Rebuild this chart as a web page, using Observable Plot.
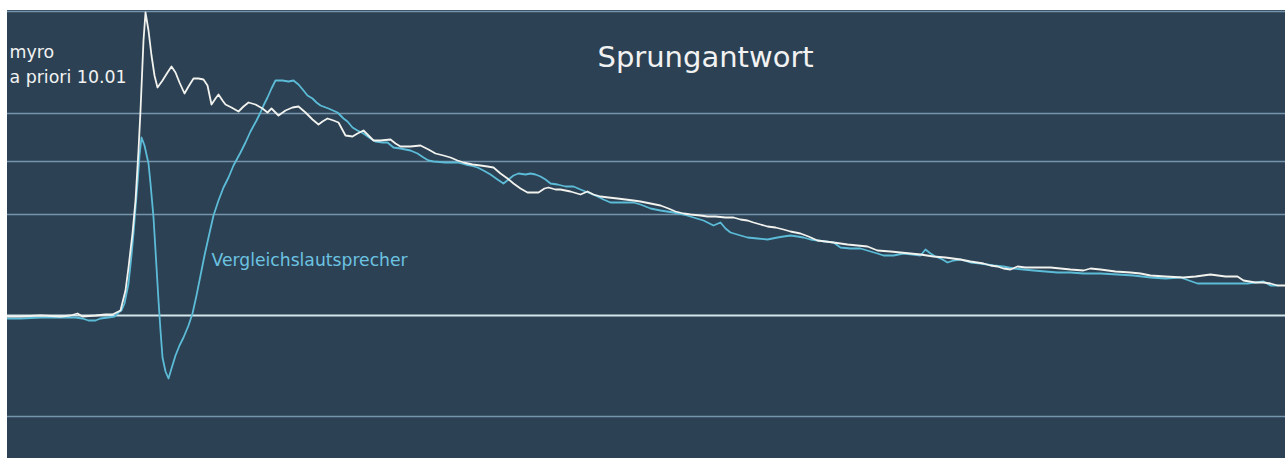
<!DOCTYPE html>
<html>
<head>
<meta charset="utf-8">
<script src="https://cdn.jsdelivr.net/npm/d3@7"></script>
<script src="https://cdn.jsdelivr.net/npm/@observablehq/plot@0.6"></script>
<style>
  html, body { margin: 0; padding: 0; background: #ffffff; }
  #chart { padding: 10px 0 0 7px; width: 1278px; height: 448px; }
  #chart svg { display: block; }
</style>
</head>
<body>
<div id="chart"></div>
<script>
// Sample position (time axis) and amplitude
const myroT = [7,20,40,60,70,77,82,95,105,112,116,120,125,128,132,135,138,140,143,145,148,151,154,157,162,167,171,175,179,184,188,193,198,203,207,211,215,218,222,225,231,238,243,248,255,262,267,271,275,278,285,292,298,305,312,318,322,327,333,338,345,352,357,363,368,373,380,390,395,400,410,420,428,435,443,450,457,463,472,480,487,493,500,507,513,520,527,533,538,544,548,555,560,570,580,587,593,600,608,617,625,633,640,650,660,668,675,683,690,700,707,715,725,733,740,747,753,760,767,775,783,790,800,808,817,825,833,840,847,857,867,877,890,910,920,933,945,960,970,983,990,997,1003,1010,1017,1025,1035,1050,1060,1070,1083,1090,1100,1115,1130,1140,1150,1165,1183,1195,1210,1225,1237,1243,1255,1263,1270,1277,1285];
const myroA = [-1,-1,0,-1,0,2,-1,0,1,1,3,5,25,48,82,115,165,205,275,303,285,260,240,228,235,243,249,243,233,222,229,237,237,236,230,211,217,221,215,211,208,204,209,213,211,207,203,207,203,200,205,208,209,203,196,191,194,197,195,193,180,179,182,185,180,175,175,176,172,169,169,170,166,162,160,158,155,153,151,150,149,148,142,137,132,127,123,123,123,127,128,126,126,124,121,124,121,119,118,117,116,115,114,112,110,107,104,102,101,100,99,99,98,98,96,95,93,91,89,88,86,84,82,79,75,74,73,72,71,70,69,65,64,62,61,59,58,56,54,52,50,49,47,46,49,48,48,48,47,46,45,47,46,44,43,42,40,39,38,39,41,39,39,35,33,33,32,30,30];

const vglT = [7,20,40,60,75,82,88,95,100,108,114,118,121,124,128,131,133,137,139,141,144,148,150,153,155,158,160,162,165,168,171,175,179,183,188,192,196,200,204,208,213,218,223,228,233,240,245,250,256,260,263,267,271,275,282,288,293,298,303,307,312,316,320,328,337,343,347,352,357,363,370,375,382,387,393,400,410,417,423,428,433,445,457,465,470,477,483,490,497,503,508,513,518,525,530,535,540,545,550,557,565,573,580,590,597,603,610,620,633,640,650,660,673,683,693,703,713,720,725,730,740,747,757,767,772,777,783,790,797,803,810,817,825,833,840,850,860,870,877,883,893,903,912,920,925,930,935,942,947,953,960,970,980,993,1003,1013,1023,1033,1045,1057,1070,1083,1100,1117,1133,1150,1165,1180,1197,1210,1223,1235,1247,1255,1263,1270,1277];
const vglA = [-3,-3,-2,-2,-2,-3,-5,-5,-3,-2,-1,3,5,12,32,60,82,132,160,178,170,152,132,98,65,15,-15,-42,-56,-63,-53,-40,-30,-22,-10,2,20,40,60,78,100,115,128,138,150,163,173,184,195,203,210,218,227,235,235,234,235,231,225,220,217,213,210,207,203,197,194,188,185,182,177,174,173,173,168,167,165,162,158,155,154,153,153,151,150,148,145,141,136,132,136,140,142,141,142,141,139,136,132,131,129,129,126,122,119,116,113,113,113,111,107,105,103,101,98,95,90,93,87,83,80,78,77,76,77,78,79,80,79,78,76,75,74,73,68,67,67,64,62,60,60,62,61,60,66,62,59,56,53,55,56,53,52,50,49,47,46,45,44,43,43,42,42,41,40,38,37,38,32,32,32,32,32,33,34,30,30];

const gridLevels = [-101, 101, 154, 202, 304];
const zeroLevel = [0];

const seriesNames = ["myro", "Vergleichslautsprecher"];
const titleText = "Sprungantwort";
const myroLabel = ["myro", "a priori 10.01"];

const myro = myroT.map((t, i) => ({t, a: myroA[i]}));
const vgl = vglT.map((t, i) => ({t, a: vglA[i]}));

// annotation anchors (data coordinates)
const titleAnchor = [{t: 597, a: 249, label: titleText}];
const myroAnchors = [{t: 9, a: 258, label: myroLabel[0]}, {t: 9, a: 233, label: myroLabel[1]}];
const vglAnchor = [{t: 211, a: 50, label: seriesNames[1]}];

const chart = Plot.plot({
  width: 1278,
  height: 448,
  margin: 0,
  x: {domain: [7, 1285], axis: null},
  y: {domain: [-143, 305], axis: null},
  style: {background: "#2c4254", fontFamily: "DejaVu Sans, Verdana, sans-serif"},
  marks: [
    Plot.ruleY(gridLevels, {stroke: "#8fb2cb", strokeOpacity: 0.75, strokeWidth: 1.5}),
    Plot.ruleY(zeroLevel, {stroke: "#d3e6ec", strokeWidth: 2}),
    Plot.line(vgl, {x: "t", y: "a", stroke: "#5cbcd8", strokeWidth: 1.8}),
    Plot.line(myro, {x: "t", y: "a", stroke: "#f2f2ee", strokeWidth: 1.8}),
    Plot.text(titleAnchor, {x: "t", y: "a", text: "label", textAnchor: "start", lineAnchor: "bottom", fontSize: 29, fill: "#f2f2f2"}),
    Plot.text(myroAnchors, {x: "t", y: "a", text: "label", textAnchor: "start", lineAnchor: "bottom", fontSize: 17.4, fill: "#f2f2f2"}),
    Plot.text(vglAnchor, {x: "t", y: "a", text: "label", textAnchor: "start", lineAnchor: "bottom", fontSize: 17.2, fill: "#6cc3e2"})
  ]
});
document.getElementById("chart").append(chart);
</script>
</body>
</html>
